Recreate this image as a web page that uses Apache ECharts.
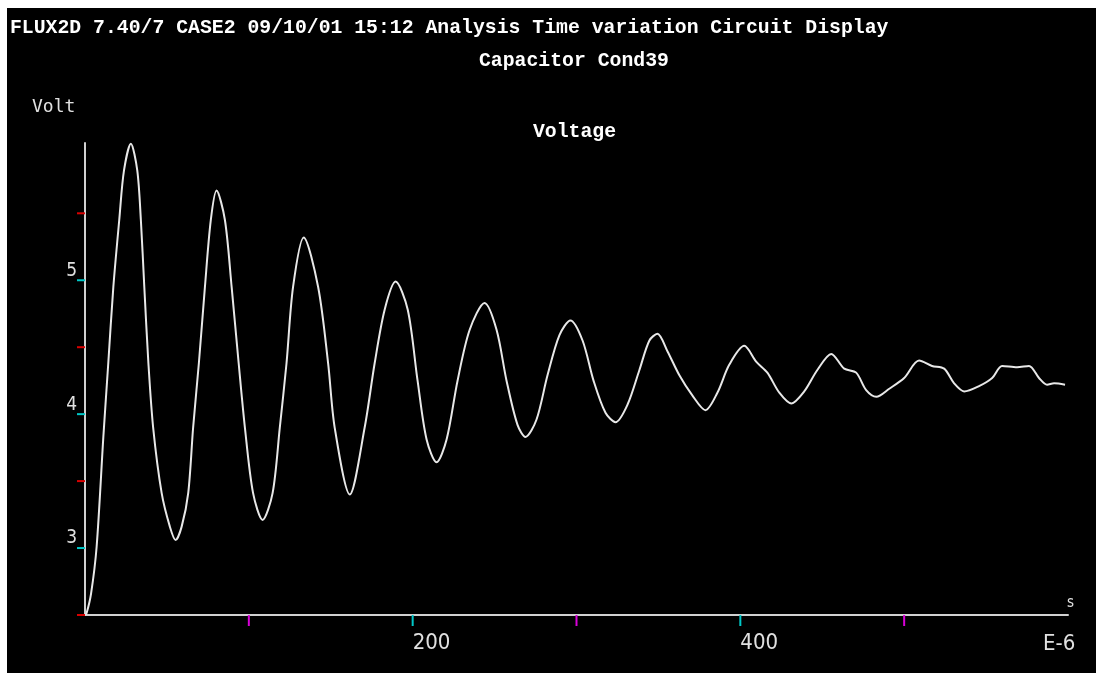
<!DOCTYPE html>
<html>
<head>
<meta charset="utf-8">
<script src="https://cdn.jsdelivr.net/npm/echarts@6/dist/echarts.min.js"></script>
<style>
  html, body { margin: 0; padding: 0; background: #ffffff; }
  #chart { position: absolute; left: 7px; top: 8px; width: 1089px; height: 665px; background: #000000; }
</style>
</head>
<body>
<div id="chart"></div>
<script>
// Time in microseconds (E-6 s)
const times = [0, 1.0, 3.7, 7.1, 11.2, 14.2, 17.3, 20.9, 23.8, 28.0, 31.9, 34.1, 36.2, 38.7, 41.6, 46.8, 51.8, 55.3,
  59.0, 63.0, 66.0, 69.5, 73.2, 76.8, 80.3, 85.4, 89.5, 93.8, 97.6, 102.6, 108.4, 114.5, 118.9, 123.0, 127.0, 133.5,
  142.3, 148.4, 152.4, 161.6, 170.7, 176.8, 182.9, 189.6, 197, 203, 208.5, 214.6, 220.7, 227.4, 234.8, 243.9,
  251.2, 257.3, 264, 268.9, 275.6, 282.3, 289.6, 296.3, 303.7, 310.4, 317.7, 323.8, 331.1, 338.4, 344.5, 349.4,
  355.5, 362.8, 370.7, 378.7, 386, 393.3, 402.4, 409.8, 416.5, 423.8, 431.1, 439, 447, 455.5, 463.4, 470.7,
  476.8, 483, 490.9, 500, 509.1, 517, 524.4, 530.5, 536.6, 545.7, 553.7, 559.8, 568.9, 576.2, 582.3, 587.2,
  591.5, 598.2];

// Capacitor voltage (Volt)
const volts = [2.5, 2.515, 2.66, 3.01, 3.83, 4.38, 4.95, 5.45, 5.82, 6.02, 5.82, 5.45, 4.95, 4.38, 3.90, 3.41, 3.16, 3.06,
  3.16, 3.41, 3.90, 4.38, 4.95, 5.45, 5.67, 5.45, 4.95, 4.38, 3.90, 3.41, 3.21, 3.41, 3.90, 4.38, 4.95, 5.32,
  4.95, 4.38, 3.90, 3.40, 3.90, 4.38, 4.78, 4.99, 4.78, 4.25, 3.81, 3.64, 3.81, 4.25, 4.63, 4.83,
  4.63, 4.25, 3.92, 3.83, 3.96, 4.29, 4.59, 4.70, 4.55, 4.25, 4.01, 3.94, 4.07, 4.33, 4.55, 4.60,
  4.47, 4.29, 4.14, 4.03, 4.16, 4.37, 4.51, 4.39, 4.31, 4.16, 4.08, 4.17, 4.33, 4.45, 4.34, 4.31,
  4.18, 4.13, 4.19, 4.27, 4.40, 4.36, 4.34, 4.23, 4.17, 4.21, 4.27, 4.36, 4.35, 4.36, 4.27, 4.22,
  4.23, 4.22];

// Axis ticks
const xMajorTicks = [200, 400];
const xMinorTicks = [100, 300, 500];
const yMajorTicks = [3, 4, 5];
const yHalfTicks = [2.5, 3.5, 4.5, 5.5];

const titleLine1 = 'FLUX2D 7.40/7 CASE2 09/10/01 15:12 Analysis Time variation Circuit Display';
const titleLine2 = 'Capacitor Cond39';
const curveName = 'Voltage';
const yUnit = 'Volt';
const xUnit = 'E-6';
const xUnitSmall = 's';

const X_MIN = 0, X_MAX = 600, Y_MIN = 2.5, Y_MAX = 6.025;

const labelFont = '"DejaVu Sans Condensed", "Liberation Sans", sans-serif';
const monoFont = '"DejaVu Sans Mono", "Liberation Mono", monospace';
const titleFont = '"Liberation Mono", "DejaVu Sans Mono", monospace';

function xTickSeries(values, color) {
  return {
    type: 'custom', silent: true, clip: false, z: 5,
    data: values.map(v => [v, Y_MIN]),
    renderItem: (params, api) => {
      const p = api.coord([api.value(0), api.value(1)]);
      return { type: 'line', shape: { x1: p[0], y1: p[1], x2: p[0], y2: p[1] + 11 },
        style: { stroke: color, lineWidth: 2 } };
    }
  };
}
function yTickSeries(values, color) {
  return {
    type: 'custom', silent: true, clip: false, z: 5,
    data: values.map(v => [X_MIN, v]),
    renderItem: (params, api) => {
      const p = api.coord([api.value(0), api.value(1)]);
      return { type: 'line', shape: { x1: p[0] - 8, y1: p[1], x2: p[0], y2: p[1] },
        style: { stroke: color, lineWidth: 2 } };
    }
  };
}

const chart = echarts.init(document.getElementById('chart'), null, { renderer: 'canvas' });
chart.setOption({
  backgroundColor: '#000000',
  animation: false,
  grid: { left: 78, top: 135, right: 28, bottom: 58 },
  xAxis: {
    type: 'value', min: X_MIN, max: X_MAX, interval: 100,
    axisLine: { show: true, onZero: false, lineStyle: { color: '#d0d0d0', width: 2 } },
    axisTick: { show: false },
    splitLine: { show: false },
    axisLabel: {
      color: '#e0e0e0', fontFamily: labelFont, fontSize: 22, lineHeight: 22,
      align: 'left', verticalAlign: 'top', margin: 17,
      showMinLabel: true, showMaxLabel: true,
      formatter: v => xMajorTicks.includes(v) ? String(v) : ''
    }
  },
  yAxis: {
    type: 'value', min: Y_MIN, max: Y_MAX, interval: 0.5,
    axisLine: { show: true, onZero: false, lineStyle: { color: '#d0d0d0', width: 2 } },
    axisTick: { show: false },
    splitLine: { show: false },
    axisLabel: {
      color: '#e0e0e0', fontFamily: labelFont, fontSize: 19, lineHeight: 19,
      align: 'right', verticalAlign: 'bottom', margin: 8,
      formatter: v => yMajorTicks.includes(v) ? String(v) : ''
    }
  },
  graphic: [
    { type: 'text', left: 3, top: 10, style: { text: titleLine1, fill: '#ffffff', font: 'bold 19.8px ' + titleFont } },
    { type: 'text', left: 472, top: 43, style: { text: titleLine2, fill: '#ffffff', font: 'bold 19.8px ' + titleFont } },
    { type: 'text', left: 526, top: 114, style: { text: curveName, fill: '#ffffff', font: 'bold 19.8px ' + titleFont } },
    { type: 'text', left: 25, top: 90, style: { text: yUnit, fill: '#e0e0e0', font: '18px ' + monoFont } },
    { type: 'text', left: 1036, top: 625, style: { text: xUnit, fill: '#e0e0e0', font: '22px ' + labelFont } },
    { type: 'text', left: 1060, top: 588, style: { text: xUnitSmall, fill: '#e0e0e0', font: '15px ' + labelFont } }
  ],
  series: [
    {
      type: 'line', name: curveName, data: times.map((t, i) => [t, volts[i]]),
      showSymbol: false, smooth: 0.3, clip: false, z: 3,
      lineStyle: { color: '#e8e8e8', width: 2 }
    },
    xTickSeries(xMajorTicks, '#00c8c8'),
    xTickSeries(xMinorTicks, '#d800d8'),
    yTickSeries(yMajorTicks, '#00c8c8'),
    yTickSeries(yHalfTicks, '#d80000')
  ]
});
</script>
</body>
</html>
